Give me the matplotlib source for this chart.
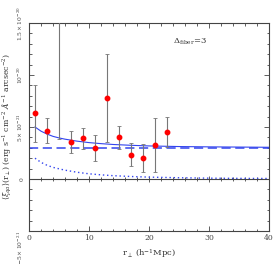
import numpy as np
import matplotlib
matplotlib.use("Agg")
import matplotlib.pyplot as plt
from matplotlib.ticker import MultipleLocator, FixedLocator, NullFormatter

# pontos medidos (unidades de 1e-21)
r_pts = [1, 3, 5, 7, 9, 11, 13, 15, 17, 19, 21, 23]
xi_pts = [6.3, 4.65, 16.5, 3.55, 3.9, 3.0, 7.8, 4.0, 2.35, 2.05, 3.25, 4.5]
xi_err = [2.75, 1.2, 12.65, 1.05, 1.05, 1.25, 4.2, 1.07, 1.1, 1.35, 2.6, 1.45]

# modelos
r_mod = [1, 2, 3, 4, 5, 6, 8, 10, 12, 14, 17, 20, 25, 30, 35, 40]
xi_total = [5.0, 4.6, 4.32, 4.1, 3.95, 3.83, 3.64, 3.5, 3.4, 3.32, 3.24, 3.18, 3.12, 3.09, 3.07, 3.05]
xi_clust = [2.0, 1.6, 1.32, 1.12, 0.98, 0.85, 0.65, 0.5, 0.4, 0.32, 0.24, 0.18, 0.12, 0.08, 0.06, 0.05]
r_const = [0, 40]
xi_const = [3.0, 3.0]

scale = 1e-21
yticks = [-5e-21, 0, 5e-21, 1e-20, 1.5e-20]
ytick_labels = [r"$-5\times10^{-21}$", "0", r"$5\times10^{-21}$", r"$10^{-20}$", r"$1.5\times10^{-20}$"]

plt.rcParams["font.family"] = "DejaVu Serif"
plt.rcParams["mathtext.fontset"] = "dejavuserif"

fig = plt.figure(figsize=(2.75, 2.64), dpi=100)
ax = fig.add_axes([29 / 275, 1 - 231 / 264, 240 / 275, 208 / 264])

blue = "#3344ee"
ax.plot(r_const, np.array(xi_const) * scale, color=blue, lw=1.1, ls=(0, (6, 3)))
ax.plot(r_mod, np.array(xi_total) * scale, color=blue, lw=0.8)
ax.plot(r_mod, np.array(xi_clust) * scale, color=blue, lw=1.0, ls=(0, (1, 2)))
ax.axhline(0, color="#444444", lw=0.8)

ax.errorbar(r_pts, np.array(xi_pts) * scale, yerr=np.array(xi_err) * scale,
            fmt="o", color="red", ms=3.2, mec="red", ecolor="#777777",
            elinewidth=0.8, capsize=1.3, capthick=0.6, zorder=5)

ax.set_xlim(0, 40)
ax.set_ylim(-5e-21, 1.5e-20)

ax.xaxis.set_major_locator(MultipleLocator(10))
ax.xaxis.set_minor_locator(MultipleLocator(2))
ax.yaxis.set_major_locator(FixedLocator(yticks))
ax.yaxis.set_minor_locator(MultipleLocator(1e-21))
ax.set_yticklabels(ytick_labels)

ax.tick_params(which="both", direction="in", top=True, right=True,
               colors="#444444", labelcolor="#444444", width=0.6)
ax.tick_params(which="major", length=3.6, labelsize=5.5, pad=2)
ax.tick_params(axis="y", which="major", labelsize=4.3, pad=3)
ax.tick_params(which="minor", length=1.8)
ax.tick_params(axis="y", which="major", labelrotation=90)
for lab in ax.get_yticklabels():
    lab.set_va("center")
labs = ax.get_yticklabels()
labs[0].set_va("top")
labs[-1].set_va("center")

for sp in ax.spines.values():
    sp.set_color("#444444")
    sp.set_linewidth(0.8)

# eixo com ticks na linha do zero
sec = ax.secondary_xaxis(0.25)
sec.xaxis.set_major_locator(MultipleLocator(10))
sec.xaxis.set_minor_locator(MultipleLocator(2))
sec.xaxis.set_major_formatter(NullFormatter())
sec.tick_params(which="both", direction="inout", colors="#444444", width=0.6)
sec.tick_params(which="major", length=5)
sec.tick_params(which="minor", length=3)
sec.spines["bottom"].set_visible(False)

ax.text(24, 1.32e-20, r"$\Delta_{\rm fiber}$=3", fontsize=6, color="#333333", va="center")

ax.set_xlabel(r"r$_\perp$ (h$^{-1}$Mpc)", fontsize=6, color="#333333", labelpad=4)
ax.set_ylabel(r"$\langle\xi_{qa}\rangle$(r$_\perp$) (erg s$^{-1}$ cm$^{-2}$ $\AA^{-1}$ arcsec$^{-2}$)",
              fontsize=5.6, color="#333333")
ax.yaxis.set_label_coords(-0.068, 0.5)

fig.savefig("out.png", dpi=100)
